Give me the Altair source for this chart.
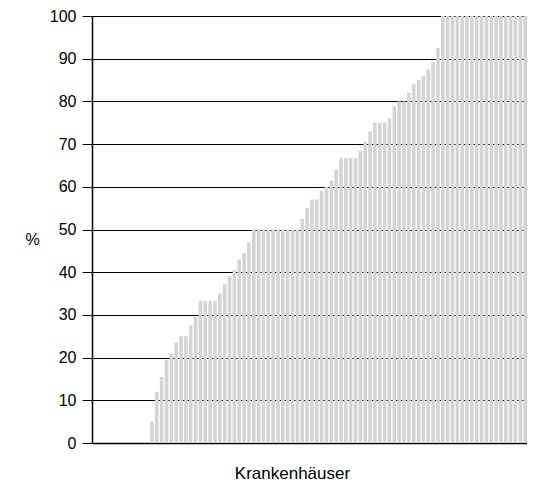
import altair as alt
import pandas as pd

# Share (%) per hospital, sorted ascending (one value per bar, visible part)
values = (
    [0] * 12
    + [5, 12, 15.5, 19.5, 21, 23.5, 25, 25, 27.5, 29.5]
    + [33.3, 33.3, 33.3, 33.3, 35, 37.2, 39, 40.5, 43, 44.5, 47]
    + [50] * 10
    + [52.5, 55, 57, 57, 59, 60, 61.5, 64]
    + [66.7] * 4
    + [68.5, 70.5, 73, 75, 75, 75, 76, 79, 80, 80, 82, 84, 85, 86, 87.5, 89.3, 92.5]
    + [100] * 18
)
hospitals = [f"H{i + 1:03d}" for i in range(len(values))]
y_ticks = list(range(0, 101, 10))

df = pd.DataFrame({"Krankenhaus": hospitals, "Anteil": values})

FONT = "Liberation Sans"

chart = (
    alt.Chart(df)
    .mark_bar(color="#d4d4d4")
    .encode(
        x=alt.X(
            "Krankenhaus:N",
            sort=None,
            scale=alt.Scale(paddingInner=0.25, paddingOuter=0),
            axis=alt.Axis(
                title="Krankenhäuser",
                labels=False,
                ticks=False,
                domainColor="#000000",
                domainWidth=1.5,
                titleFont=FONT,
                titleFontSize=17,
                titleFontWeight="normal",
                titleColor="#000000",
                titleX=200,
                titleY=30,
                titleAlign="center",
                titleBaseline="middle",
            ),
        ),
        y=alt.Y(
            "Anteil:Q",
            scale=alt.Scale(domain=[0, 100], nice=False),
            axis=alt.Axis(
                title="%",
                values=y_ticks,
                grid=True,
                gridColor="#000000",
                gridWidth=1,
                gridOpacity=1,
                domainColor="#000000",
                domainWidth=1.5,
                tickColor="#000000",
                tickSize=10,
                tickWidth=1,
                labelPadding=6,
                labelFont=FONT,
                labelFontSize=16,
                labelColor="#000000",
                titleFont=FONT,
                titleFontSize=16,
                titleFontWeight="normal",
                titleColor="#000000",
                titleAngle=0,
                titleX=-60,
                titleY=223,
                titleAlign="center",
                titleBaseline="middle",
            ),
        ),
    )
    .properties(
        width=435,
        height=427,
        autosize=alt.AutoSizeParams(type="none"),
        padding={"left": 84, "top": 8, "right": 0, "bottom": 38},
    )
    .configure_view(stroke=None)
    .configure(background="#ffffff")
)

chart.save("out.html", embed_options={"renderer": "svg", "actions": False})
